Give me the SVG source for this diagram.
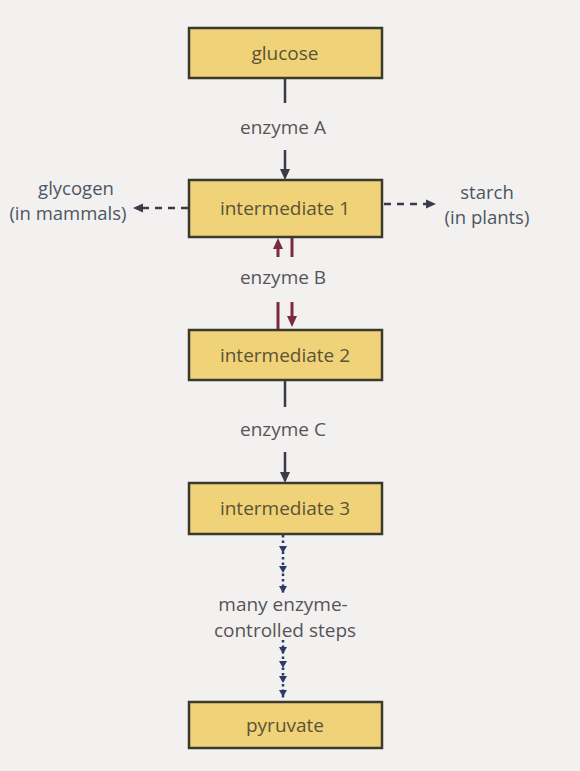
<svg xmlns="http://www.w3.org/2000/svg" width="580" height="771" viewBox="0 0 580 771">
  <style>
    .box { fill: #f0d279; stroke: #3b3a2e; stroke-width: 2.5; }
    .btxt { font-family: "Open Sans", "Liberation Sans", sans-serif; font-size: 19px; fill: #5a5434; text-anchor: middle; }
    .lbl { font-family: "Open Sans", "Liberation Sans", sans-serif; font-size: 19px; fill: #555558; text-anchor: middle; }
    .side { font-family: "Open Sans", "Liberation Sans", sans-serif; font-size: 18.5px; fill: #4c5662; text-anchor: middle; }
    .ln { stroke: #3a3a48; stroke-width: 2.5; fill: none; }
    .lnB { stroke: #7a2a42; stroke-width: 3; fill: none; }
    .dash { stroke: #3a3a48; stroke-width: 2.5; stroke-dasharray: 7 6; fill: none; }
    .dot { stroke: #2c3a66; stroke-width: 2.5; stroke-dasharray: 2.5 3; fill: none; }
    .ah { fill: #3a3a48; }
    .ahB { fill: #7a2a42; }
    .ahD { fill: #2c3a66; }
  </style>
  <rect x="0" y="0" width="580" height="771" fill="#f3f0f0"/>

  <g id="connectors">
    <!-- glucose -> intermediate 1 -->
    <line class="ln" x1="285" y1="78" x2="285" y2="103" stroke="#3d4a35"/>
    <line class="ln" x1="285" y1="150" x2="285" y2="172"/>
    <polygon class="ah" points="280,169 290,169 285,180"/>
    <!-- intermediate 1 <-> intermediate 2 -->
    <line class="lnB" x1="278" y1="246" x2="278" y2="257"/>
    <polygon class="ahB" points="273,249 283,249 278,238"/>
    <line class="lnB" x1="292" y1="238" x2="292" y2="257"/>
    <line class="lnB" x1="278" y1="302" x2="278" y2="330"/>
    <line class="lnB" x1="292" y1="302" x2="292" y2="320"/>
    <polygon class="ahB" points="287,316 297,316 292,327"/>
    <!-- intermediate 2 -> intermediate 3 -->
    <line class="ln" x1="285" y1="380" x2="285" y2="407"/>
    <line class="ln" x1="285" y1="452" x2="285" y2="475"/>
    <polygon class="ah" points="280,472 290,472 285,483"/>
    <!-- side dashed arrows -->
    <line class="dash" x1="188" y1="208" x2="142" y2="208"/>
    <polygon class="ah" points="133,208 143,203.5 143,212.5"/>
    <line class="dash" x1="384" y1="204" x2="428" y2="204"/>
    <polygon class="ah" points="436,204 426,199.5 426,208.5"/>
    <!-- intermediate 3 -> pyruvate (many steps) -->
    <line class="dot" x1="283" y1="535" x2="283" y2="594"/>
    <polygon class="ahD" points="279,546 287,546 283,553"/>
    <polygon class="ahD" points="279,566 287,566 283,573"/>
    <polygon class="ahD" points="279,586 287,586 283,593"/>
    <line class="dot" x1="283" y1="640" x2="283" y2="700"/>
    <polygon class="ahD" points="279,647 287,647 283,654"/>
    <polygon class="ahD" points="279,661 287,661 283,668"/>
    <polygon class="ahD" points="279,676 287,676 283,683"/>
    <polygon class="ahD" points="279,690 287,690 283,697"/>
  </g>

  <g id="glucose">
    <rect class="box" x="189" y="28" width="193" height="50"/>
    <text class="btxt" x="285" y="59.5">glucose</text>
  </g>
  <g id="intermediate1">
    <rect class="box" x="189" y="180" width="193" height="57"/>
    <text class="btxt" x="285" y="215">intermediate 1</text>
  </g>
  <g id="intermediate2">
    <rect class="box" x="189" y="330" width="193" height="50"/>
    <text class="btxt" x="285" y="361.5">intermediate 2</text>
  </g>
  <g id="intermediate3">
    <rect class="box" x="189" y="483" width="193" height="51"/>
    <text class="btxt" x="285" y="515">intermediate 3</text>
  </g>
  <g id="pyruvate">
    <rect class="box" x="189" y="702" width="193" height="46"/>
    <text class="btxt" x="285" y="731.5">pyruvate</text>
  </g>
  <g id="glycogen">
    <text class="side" x="76" y="195">glycogen</text>
    <text class="side" x="68" y="220">(in mammals)</text>
  </g>
  <g id="starch">
    <text class="side" x="487" y="199">starch</text>
    <text class="side" x="487" y="224">(in plants)</text>
  </g>
  <g id="labels">
    <text class="lbl" x="283" y="134">enzyme A</text>
    <text class="lbl" x="283" y="284">enzyme B</text>
    <text class="lbl" x="283" y="436">enzyme C</text>
    <text class="lbl" x="283" y="611">many enzyme-</text>
    <text class="lbl" x="285" y="637">controlled steps</text>
  </g>
</svg>
